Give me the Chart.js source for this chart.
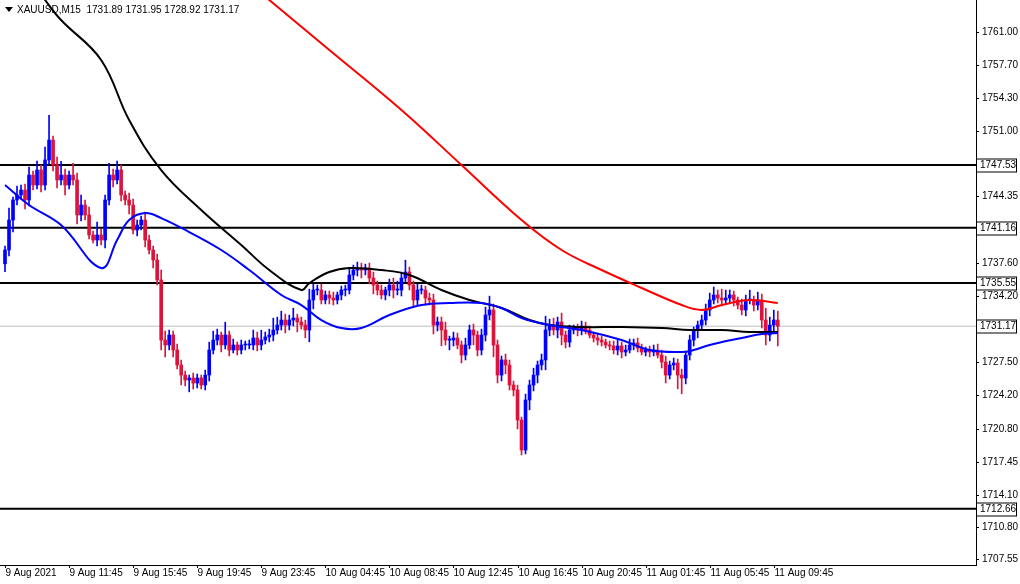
<!DOCTYPE html>
<html>
<head>
<meta charset="utf-8">
<script src="https://cdn.jsdelivr.net/npm/chart.js@4"></script>
<style>
  body { margin: 0; background: #fff; }
  #wrap { width: 1020px; height: 584px; }
</style>
</head>
<body>
<div id="wrap"><canvas id="chart"></canvas></div>
<script>
// M15 closes, bar 0 = 9 Aug 2021 07:45 (server time)
const closes = [
  1738.90,1741.94,1743.97,1744.48,1744.98,1743.97,1746.50,1745.49,1747.01,1745.49,
  1748.03,1750.05,1747.52,1746.00,1746.50,1745.49,1746.50,1746.00,1742.45,1743.46,
  1742.45,1740.42,1739.91,1740.42,1739.91,1743.97,1746.50,1746.00,1747.01,1744.48,
  1743.97,1743.46,1740.93,1741.43,1741.94,1739.91,1738.90,1737.89,1735.86,1729.77,
  1729.27,1730.28,1728.76,1727.24,1726.22,1725.72,1725.92,1725.41,1725.92,1725.21,
  1726.22,1728.76,1729.77,1730.28,1729.27,1730.28,1728.76,1729.27,1728.76,1729.27,
  1729.27,1729.27,1729.98,1729.27,1729.77,1730.08,1730.28,1730.79,1731.29,1731.80,
  1731.29,1731.80,1732.00,1731.60,1731.29,1730.79,1733.83,1734.84,1734.84,1733.83,
  1734.34,1734.03,1733.83,1734.34,1734.84,1734.84,1736.36,1736.87,1737.07,1736.87,
  1737.07,1736.06,1735.35,1734.84,1734.34,1734.84,1735.35,1734.84,1734.84,1736.06,
  1736.67,1735.35,1733.83,1734.84,1734.84,1734.03,1733.83,1731.29,1731.60,1730.79,
  1729.77,1729.77,1729.98,1729.27,1728.25,1729.27,1730.79,1730.28,1728.76,1730.28,
  1732.31,1732.82,1729.27,1726.22,1727.75,1727.24,1725.21,1724.70,1721.66,1718.62,
  1723.69,1725.21,1726.22,1727.24,1727.75,1730.79,1731.29,1730.79,1731.60,1730.28,
  1729.57,1730.79,1730.99,1730.79,1731.19,1730.79,1730.28,1729.98,1729.77,1729.57,
  1729.27,1729.17,1728.76,1729.17,1728.56,1728.76,1729.27,1729.47,1728.96,1728.56,
  1728.76,1728.56,1728.76,1728.25,1727.54,1726.22,1727.24,1727.44,1726.22,1725.92,
  1728.25,1729.77,1730.79,1731.29,1731.80,1732.82,1733.83,1734.34,1734.03,1733.83,
  1734.03,1734.34,1733.83,1733.32,1732.82,1733.83,1733.83,1733.32,1733.83,1731.80,
  1730.28,1731.29,1731.80,1731.17
];
const firstOpen = 1737.50;
// wick lengths above / below the body, in dollars
const upperWicks = [
  0.4,1.2,0.3,0.9,0.5,0.6,0.8,0.4,0.9,0.5, 1.3,2.5,0.4,0.8,1.4,0.6,0.4,1.2,0.7,1.0,
  0.5,0.8,0.4,1.3,0.6,0.5,1.2,0.6,0.9,0.5, 0.4,0.7,0.6,0.5,0.4,0.8,0.5,0.4,0.6,1.0,
  0.9,0.5,0.4,0.6,0.5,0.4,0.3,0.5,0.4,0.3, 0.5,0.8,0.9,0.6,0.3,1.3,0.4,0.6,0.3,0.5,
  0.4,0.5,0.8,0.6,1.0,0.5,0.6,1.2,0.8,0.9, 0.6,0.5,1.0,0.4,0.5,0.5,1.1,0.6,0.5,0.6,
  0.4,0.4,0.6,0.3,0.4,0.5,0.7,0.5,0.6,0.5, 0.4,0.5,0.6,0.4,0.5,0.3,0.6,0.7,0.9,0.6,
  1.2,0.5,0.4,0.6,0.5,0.4,0.5,0.6,0.5,0.5, 0.8,0.4,0.6,0.5,0.4,0.7,0.5,0.6,0.4,0.6,
  0.8,1.4,0.6,0.5,0.4,0.6,0.5,0.4,0.5,0.3, 0.6,0.5,0.7,0.4,0.6,1.4,0.6,0.7,0.5,0.9,
  0.4,0.5,0.3,0.4,0.5,0.4,0.4,0.3,0.5,0.4, 0.3,0.4,0.5,0.6,0.4,0.5,0.6,0.4,0.5,0.4,
  0.3,0.4,0.5,0.6,0.5,0.6,0.4,0.5,0.4,0.6, 0.4,0.5,0.3,0.4,0.5,0.6,0.7,0.8,0.5,0.9,
  0.8,0.5,0.4,0.3,0.6,0.5,1.0,0.4,0.8,0.6, 1.2,0.8,1.0,0.9
];
const lowerWicks = [
  0.8,0.6,1.2,0.5,0.4,0.9,0.6,0.5,0.4,0.7, 0.5,0.4,0.6,0.8,0.5,1.0,0.4,0.5,0.9,0.6,
  0.5,0.4,0.3,0.6,0.5,0.8,0.5,0.7,0.4,0.6, 0.5,0.9,0.4,0.6,0.5,0.7,0.4,0.8,0.5,1.0,
  1.2,0.5,0.7,0.4,1.0,0.6,1.2,0.6,0.5,0.4, 0.5,0.6,0.4,0.5,0.7,0.4,0.6,0.3,0.5,0.4,
  0.5,0.4,0.5,0.6,0.5,0.4,0.5,0.6,0.4,0.5, 0.8,0.5,0.6,1.0,0.4,0.8,1.2,0.9,0.5,0.4,
  0.4,0.6,0.5,0.4,0.5,0.6,0.4,0.5,0.6,0.8, 0.5,0.6,0.9,0.5,0.4,0.5,0.6,0.8,0.5,0.6,
  0.4,0.5,0.6,0.5,0.4,0.6,0.5,0.9,0.6,1.6, 0.5,1.0,0.6,0.4,0.8,0.5,0.4,1.0,0.6,0.5,
  0.6,0.5,1.2,0.8,0.6,0.9,0.5,0.6,0.9,0.5, 0.4,1.0,0.6,0.8,0.5,1.0,0.6,0.5,0.8,1.0,
  0.6,0.5,0.4,0.6,0.5,0.4,0.3,0.4,0.5,0.4, 0.3,0.4,0.4,0.5,0.6,0.4,0.3,0.5,0.4,0.3,
  0.4,0.5,0.4,0.3,0.6,0.8,0.4,0.5,1.4,1.6, 0.6,0.5,0.6,0.8,0.4,0.5,0.6,0.4,0.5,0.6,
  0.4,0.5,0.6,0.4,0.5,0.6,0.4,0.6,0.5,0.8, 1.0,0.6,0.7,2.0
];

// moving averages read at a few bars (bar index, price)
const maBlackBars = [0,5,10,14,24,31,39,49,59,66,74,76,81,86,94,101,109,116,124,131,136,144,154,164,171,179,186,193];
const maBlack = [1770.5,1767.0,1764.25,1762.22,1758.17,1752.08,1747.01,1742.96,1739.41,1736.87,1734.84,1735.55,1736.67,1737.07,1736.87,1736.36,1734.84,1733.83,1733.02,1731.80,1731.29,1731.09,1731.09,1730.99,1730.79,1730.79,1730.59,1730.59];
const maBlueBars = [0,6,14,24,28,31,35,39,46,54,61,69,74,79,84,89,96,104,111,119,124,129,136,144,154,161,169,172,176,184,189,193];
const maBlue = [1745.49,1743.46,1741.43,1737.07,1739.91,1741.94,1742.65,1742.14,1740.72,1738.90,1736.87,1734.34,1733.32,1731.80,1730.99,1730.99,1732.31,1733.32,1733.53,1733.53,1733.02,1732.00,1731.29,1730.79,1729.77,1728.76,1728.56,1728.76,1729.27,1729.98,1730.38,1730.49];
const maRedBars = [63,66,81,99,114,129,139,149,159,169,174,179,186,193];
const maRed = [1765.3,1764.25,1759.18,1753.10,1747.52,1741.94,1738.90,1736.87,1735.05,1733.32,1732.82,1733.32,1733.83,1733.53];

const levels = [1747.53, 1741.16, 1735.55, 1712.66];
const lastPrice = 1731.17;

const yTicks = [1707.55,1710.80,1714.10,1717.45,1720.80,1724.20,1727.50,1734.20,1737.60,1744.35,1751.00,1754.30,1757.70,1761.00];
const xTickBars = [0,16,32,48,64,80,96,112,128,144,160,176,192];
const xTickLabels = ['9 Aug 2021','9 Aug 11:45','9 Aug 15:45','9 Aug 19:45','9 Aug 23:45','10 Aug 04:45','10 Aug 08:45','10 Aug 12:45','10 Aug 16:45','10 Aug 20:45','11 Aug 01:45','11 Aug 05:45','11 Aug 09:45'];

const FONT = '10px "Liberation Sans", Arial, sans-serif';
const UP = '#0000ff', DOWN = '#dc143c';
const opens = closes.map((c, i) => i === 0 ? firstOpen : closes[i - 1]);
const bodies = closes.map((c, i) => ({ x: i, y: [opens[i], c] }));
const wicks = closes.map((c, i) => ({
  x: i,
  y: [Math.min(opens[i], c) - lowerWicks[i], Math.max(opens[i], c) + upperWicks[i]]
}));
const colors = closes.map((c, i) => c >= opens[i] ? UP : DOWN);
const pts = (bars, vals) => bars.map((b, i) => ({ x: b, y: vals[i] }));
const flat = (v) => [{ x: -2, y: v }, { x: 250, y: v }];

const overlay = {
  id: 'overlay',
  afterDraw(chart) {
    const { ctx, chartArea: a, scales: { x, y } } = chart;
    ctx.save();
    ctx.font = FONT;
    ctx.textBaseline = 'middle';
    ctx.textAlign = 'left';
    ctx.fillStyle = '#000';
    ctx.strokeStyle = '#000';
    ctx.lineWidth = 1;
    // price axis
    for (const v of yTicks) {
      const py = Math.round(y.getPixelForValue(v)) + 0.5;
      ctx.beginPath(); ctx.moveTo(a.right, py); ctx.lineTo(a.right + 3, py); ctx.stroke();
      ctx.fillText(v.toFixed(2), a.right + 6, py);
    }
    for (const v of [...levels, lastPrice]) {
      const py = Math.round(y.getPixelForValue(v)) + 0.5;
      ctx.fillStyle = '#fff';
      ctx.fillRect(a.right + 1, py - 7, 42, 14);
      ctx.strokeRect(a.right + 0.5, py - 6.5, 40, 13);
      ctx.fillStyle = '#000';
      ctx.fillText(v.toFixed(2), a.right + 4, py);
    }
    // time axis
    ctx.textBaseline = 'top';
    xTickBars.forEach((b, i) => {
      const px = Math.round(x.getPixelForValue(b)) + 0.5;
      ctx.beginPath(); ctx.moveTo(px, a.bottom); ctx.lineTo(px, a.bottom + 3); ctx.stroke();
      ctx.fillText(xTickLabels[i], px, a.bottom + 3);
    });
    // header
    ctx.beginPath();
    ctx.moveTo(5, 7); ctx.lineTo(13, 7); ctx.lineTo(9, 12); ctx.closePath();
    ctx.fill();
    ctx.textBaseline = 'middle';
    ctx.fillText('XAUUSD,M15  1731.89 1731.95 1728.92 1731.17', 17, 10);
    ctx.restore();
  }
};

new Chart(document.getElementById('chart'), {
  data: {
    datasets: [
      ...levels.map(v => ({ type: 'line', data: flat(v), borderColor: '#000', borderWidth: 2, pointRadius: 0, order: 5 })),
      { type: 'line', data: flat(lastPrice), borderColor: '#c0c0c0', borderWidth: 1, pointRadius: 0, order: 6 },
      { type: 'bar', data: wicks, backgroundColor: colors, barThickness: 1, grouped: false, order: 4 },
      { type: 'bar', data: bodies, backgroundColor: colors, barThickness: 3, minBarLength: 1, grouped: false, order: 3 },
      { type: 'line', data: pts(maBlackBars, maBlack), borderColor: '#000', borderWidth: 2, pointRadius: 0, tension: 0.4, order: 2 },
      { type: 'line', data: pts(maRedBars, maRed), borderColor: '#ff0000', borderWidth: 2, pointRadius: 0, tension: 0.4, order: 1 },
      { type: 'line', data: pts(maBlueBars, maBlue), borderColor: '#0000ff', borderWidth: 2, pointRadius: 0, tension: 0.4, order: 0 }
    ]
  },
  options: {
    responsive: true,
    maintainAspectRatio: false,
    animation: false,
    layout: { padding: 0 },
    plugins: { legend: { display: false }, tooltip: { enabled: false } },
    scales: {
      x: {
        type: 'linear', min: -1.25, max: 242.5, offset: false,
        grid: { display: false, offset: false },
        border: { color: '#000' },
        ticks: { display: false },
        afterFit: (s) => { s.height = 19; }
      },
      y: {
        position: 'right', min: 1706.96, max: 1764.25,
        grid: { display: false },
        border: { color: '#000' },
        ticks: { display: false },
        afterFit: (s) => { s.width = 44; }
      }
    }
  },
  plugins: [overlay]
});
</script>
</body>
</html>
